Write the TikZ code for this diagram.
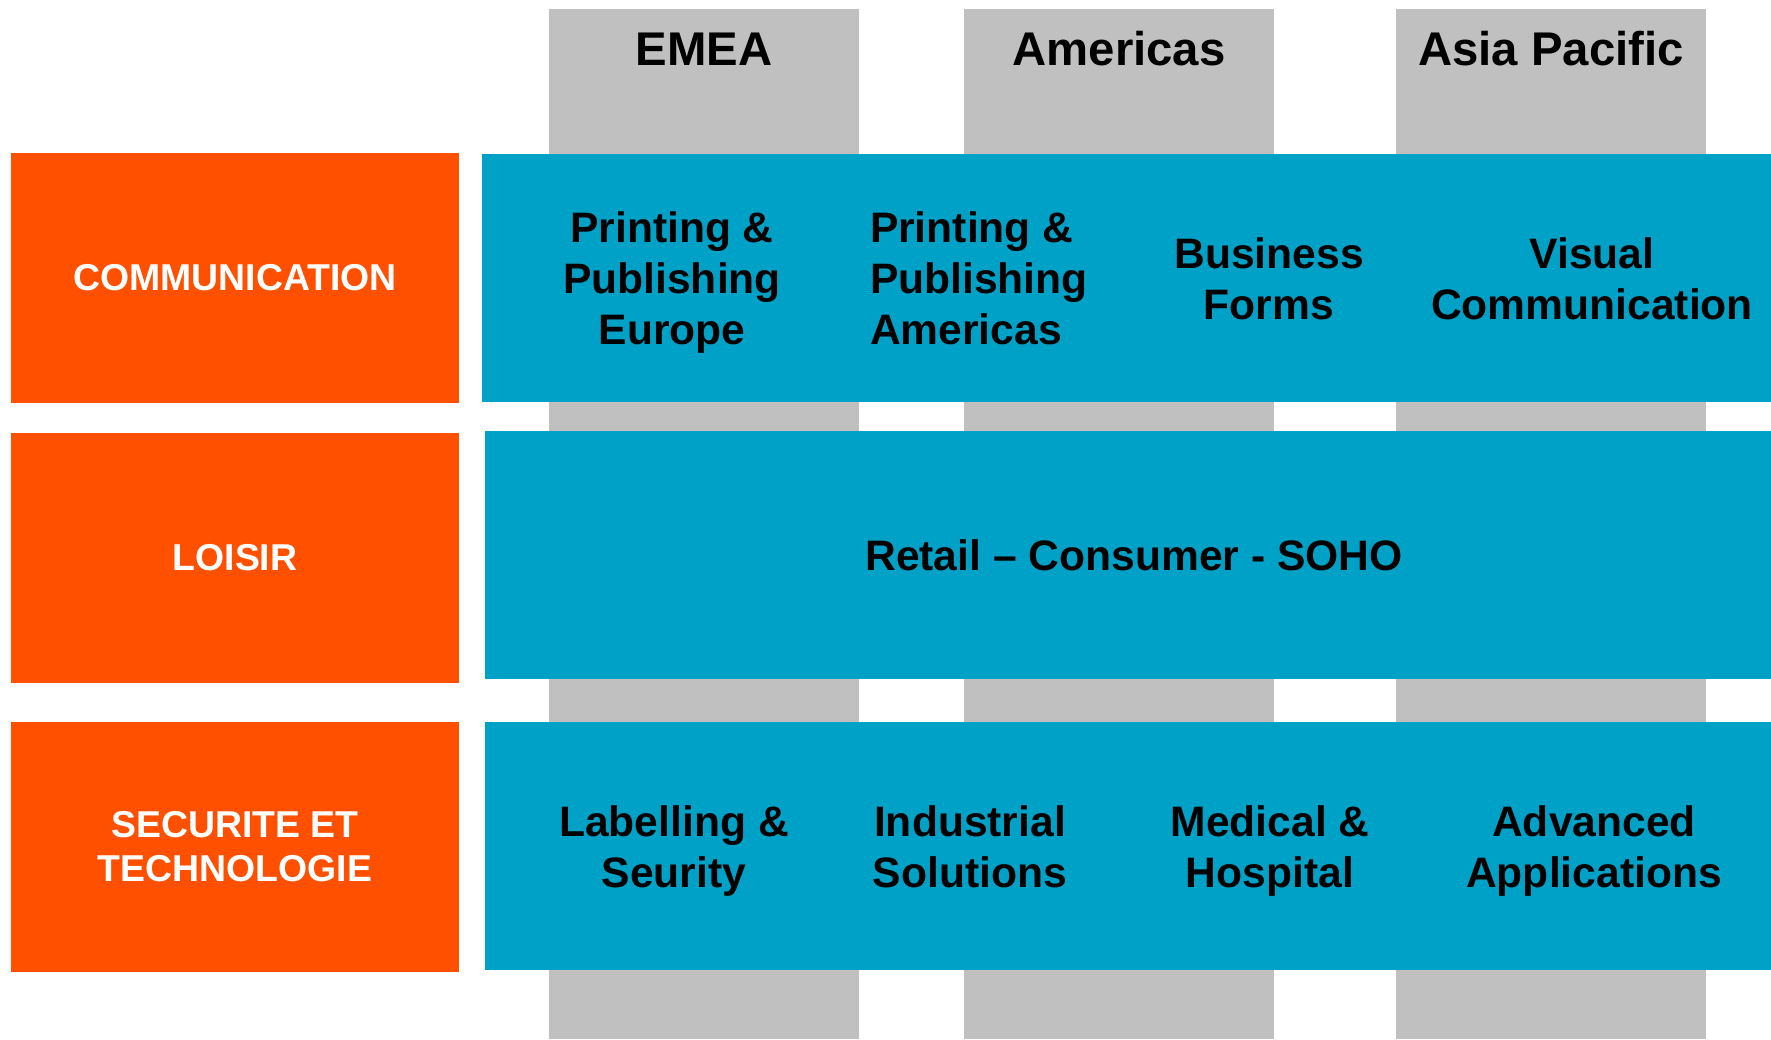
\documentclass[tikz,border=0pt]{standalone}
\usepackage{fontspec}
\setmainfont{Liberation Sans}
\usepackage{tikz}
\definecolor{sectororange}{RGB}{255,80,0}
\definecolor{unitblue}{RGB}{0,161,198}
\definecolor{regiongray}{RGB}{192,192,192}

\begin{document}
\begin{tikzpicture}[x=1pt,y=-1pt,inner sep=0pt,outer sep=0pt,
		region/.style={fill=regiongray,anchor=north west,minimum width=310pt,minimum height=1030pt},
		sector/.style={fill=sectororange,anchor=north west,minimum width=448pt,minimum height=250pt,
			text=white,align=center,font=\bfseries\fontsize{37.4}{44}\selectfont},
		band/.style={fill=unitblue,anchor=north west,minimum height=248pt},
		unit/.style={align=center,font=\bfseries\fontsize{42.6}{51}\selectfont},
		head/.style={anchor=base,font=\bfseries\fontsize{47.3}{56}\selectfont}]

		\useasboundingbox (0,0) rectangle (1771,1039);

		% regions
		\node[region] (emea) at (549,9) {};
		\node[region] (amer) at (964,9) {};
		\node[region] (apac) at (1396,9) {};
		\node[head] at (704,65) {EMEA};
		\node[head] at (1119,65) {Americas};
		\node[head] at (1551,65) {Asia Pacific};

		% sectors
		\node[sector] (comm) at (11,153) {COMMUNICATION};
		\node[sector] (loisir) at (11,433) {LOISIR};
		\node[sector] (secu) at (11,722) {SECURITE ET\\TECHNOLOGIE};

		% business units
		\node[band,minimum width=1289pt] (row1) at (482,154) {};
		\node[band,minimum width=1286pt] (row2) at (485,431) {};
		\node[band,minimum width=1286pt] (row3) at (485,722) {};

		\node[unit] (ppe) at (672,282.5) {Printing \&\\Publishing\\Europe};
		\node[unit,align=left,anchor=west] (ppa) at (870,278.2) {Printing \&\\Publishing\\Americas};
		\node[unit] (bf) at (1269,278.4) {Business\\Forms};
		\node[unit] (vc) at (1592,278.4) {Visual\\Communication};

		\node[unit] (rcs) at (1134,555.5) {Retail – Consumer - SOHO};

		\node[unit] (ls) at (674,851) {Labelling \&\\Seurity};
		\node[unit] (is) at (970,846.7) {Industrial\\Solutions};
		\node[unit] (mh) at (1270,851) {Medical \&\\Hospital};
		\node[unit] (aa) at (1594,851) {Advanced\\Applications};
	\end{tikzpicture}
\end{document}
